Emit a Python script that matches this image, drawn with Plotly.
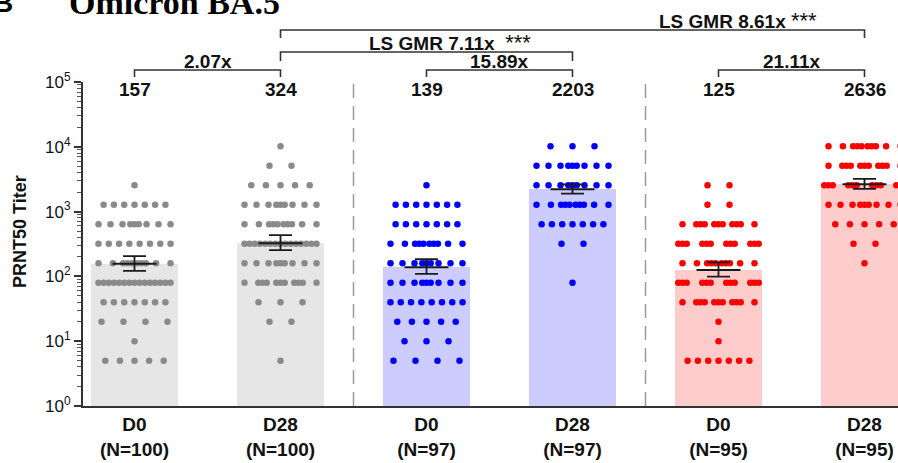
import plotly.graph_objects as go
import numpy as np

# ---------------- data ----------------
groups = ["D0", "D28", "D0", "D28", "D0", "D28"]
n_labels = ["(N=100)", "(N=100)", "(N=97)", "(N=97)", "(N=95)", "(N=95)"]
gmt = [157, 324, 139, 2203, 125, 2636]
ci_low = [122, 255, 109, 1890, 99, 2240]
ci_high = [206, 435, 184, 2640, 165, 3200]
titer_levels = [5, 10, 20, 40, 80, 160, 320, 640, 1280, 2560, 5120, 10240]
# visible dot counts per titer level
counts_g1 = [5, 1, 4, 7, 15, 10, 8, 9, 7, 1, 0, 0]
counts_g2 = [1, 0, 2, 3, 11, 9, 15, 10, 9, 5, 2, 1]
counts_g3 = [4, 3, 5, 8, 9, 9, 10, 7, 7, 1, 0, 0]
counts_g4 = [0, 0, 0, 0, 1, 0, 2, 7, 10, 9, 9, 3]
counts_g5 = [7, 1, 1, 11, 12, 10, 12, 11, 2, 2, 0, 0]
counts_g6 = [0, 0, 0, 0, 0, 1, 2, 5, 9, 12, 11, 10]
pair_ratios = ["2.07x", "15.89x", "21.11x"]
gmr_labels = ["LS GMR 7.11x", "LS GMR 8.61x"]
y_tick_vals = [1, 10, 100, 1000, 10000, 100000]
y_tick_text = ["10<sup>0</sup>", "10<sup>1</sup>", "10<sup>2</sup>",
               "10<sup>3</sup>", "10<sup>4</sup>", "10<sup>5</sup>"]

all_counts = [counts_g1, counts_g2, counts_g3, counts_g4, counts_g5, counts_g6]
dot_colors = ["#8a8a8a", "#8a8a8a", "#0000ff", "#0000ff", "#ff0000", "#ff0000"]
bar_colors = ["#e6e6e6", "#e6e6e6", "#ccccff", "#ccccff", "#ffcccc", "#ffcccc"]

# ---------------- geometry ----------------
W, H = 898, 463
ML, MR, MT, MB = 83, 0, 82, 57
PX_PER_UNIT = 146.0
x_lo = -(134.5 - ML) / PX_PER_UNIT
x_hi = x_lo + (W - ML - MR) / PX_PER_UNIT
plot_h = H - MT - MB
axis_bottom_px = H - MB


def py(ypx):
    """pixel row -> paper y"""
    return (axis_bottom_px - ypx) / plot_h


def row_offsets(n):
    """swarm-like horizontal offsets (px) of n dots in one titer row"""
    if n == 0:
        return []
    if n <= 4:
        return [(i - (n - 1) / 2) * 22 for i in range(n)]
    if n == 5:
        return [(i - 2) * 14.6 for i in range(n)]
    if n <= 8:
        return [(i - (n - 1) / 2) * 10.3 for i in range(n)]
    if n <= 12:
        k = 16 - n
        t = n - 8
        slots = np.linspace(-36, 36, k)
        start = (k - t) // 2
        out = []
        for j, s in enumerate(slots):
            if start <= j < start + t:
                out += [s - 4.2, s, s + 4.2]
            else:
                out.append(s)
        return out
    return list(np.linspace(-36, 36, n))


fig = go.Figure()

fig.add_trace(go.Bar(
    x=list(range(6)), y=gmt, width=87 / PX_PER_UNIT,
    marker=dict(color=bar_colors, line=dict(width=0)),
    hoverinfo="skip"))

for gi, counts in enumerate(all_counts):
    xs, ys = [], []
    for lvl, c in zip(titer_levels, counts):
        for off in row_offsets(c):
            xs.append(gi + off / PX_PER_UNIT)
            ys.append(lvl)
    fig.add_trace(go.Scatter(
        x=xs, y=ys, mode="markers",
        marker=dict(size=6.5, color=dot_colors[gi], line=dict(width=0)),
        hoverinfo="skip"))

# mean line + error bars
fig.add_trace(go.Scatter(
    x=list(range(6)), y=gmt, mode="markers",
    marker=dict(symbol="line-ew", size=44 / 1.4, color="#1a1a1a",
                line=dict(width=2, color="#1a1a1a")),
    error_y=dict(type="data", symmetric=False,
                 array=[h - g for h, g in zip(ci_high, gmt)],
                 arrayminus=[g - l for g, l in zip(gmt, ci_low)],
                 width=11.5, thickness=1.8, color="#1a1a1a"),
    hoverinfo="skip"))

shapes = []
# dashed separators
for xs_ in (1.5, 3.5):
    shapes.append(dict(type="line", xref="x", yref="paper", x0=xs_, x1=xs_,
                       y0=0, y1=py(83), line=dict(color="#9a9a9a", width=1.5, dash="14px,8px"),
                       layer="below"))


def bracket(a, b, ypx, tick):
    return dict(type="path", xref="x", yref="paper",
                path=f"M {a},{py(ypx + tick)} L {a},{py(ypx)} L {b},{py(ypx)} L {b},{py(ypx + tick)}",
                line=dict(color="#333333", width=1.6))


for k in range(3):
    shapes.append(bracket(2 * k, 2 * k + 1, 70, 7))
shapes.append(bracket(1, 3, 52, 9))
shapes.append(bracket(1, 5, 30, 8))

annotations = []
FONT = "Liberation Sans, Arial, sans-serif"
for i, g in enumerate(gmt):
    annotations.append(dict(x=i, y=py(89), xref="x", yref="paper", text=f"<b>{g}</b>",
                            showarrow=False, yanchor="middle",
                            font=dict(family=FONT, size=19, color="#111")))
for k, r in enumerate(pair_ratios):
    annotations.append(dict(x=2 * k + 0.5, y=py(62), xref="x", yref="paper", text=f"<b>{r}</b>",
                            showarrow=False, yanchor="middle",
                            font=dict(family=FONT, size=19, color="#111")))
annotations.append(dict(x=(450 - 134.5) / PX_PER_UNIT, y=py(43), xref="x", yref="paper",
                        text=f"<b>{gmr_labels[0]}</b>  <span style='font-size:22px'>***</span>",
                        showarrow=False, yanchor="middle",
                        font=dict(family=FONT, size=19, color="#111")))
annotations.append(dict(x=(738 - 134.5) / PX_PER_UNIT, y=py(20), xref="x", yref="paper",
                        text=f"<b>{gmr_labels[1]}</b> <span style='font-size:22px'>***</span>",
                        showarrow=False, yanchor="middle",
                        font=dict(family=FONT, size=19, color="#111")))
# title (cut at the top edge)
annotations.append(dict(x=(67 - ML) / (W - ML), y=py(23), xref="paper", yref="paper",
                        text="<b>Omicron BA.5</b>", showarrow=False, xanchor="left", yanchor="bottom",
                        font=dict(family="Liberation Serif, Times New Roman, serif", size=34, color="#000")))
annotations.append(dict(x=(15 - ML) / (W - ML), y=py(20), xref="paper", yref="paper",
                        text="<b>B</b>", showarrow=False, xanchor="right", yanchor="bottom",
                        font=dict(family=FONT, size=28, color="#000")))
# y title
annotations.append(dict(x=(20 - ML) / (W - ML), y=py(232), xref="paper", yref="paper",
                        text="<b>PRNT50 Titer</b>", showarrow=False, textangle=-90,
                        xanchor="center", yanchor="middle",
                        font=dict(family=FONT, size=18, color="#111")))

minor_vals = [k * 10 ** d for d in range(5) for k in range(2, 10)]

fig.update_layout(
    width=W, height=H, margin=dict(l=ML, r=MR, t=MT, b=MB, pad=0),
    paper_bgcolor="white", plot_bgcolor="white", showlegend=False,
    hovermode=False, bargap=0, shapes=shapes, annotations=annotations,
    xaxis=dict(range=[x_lo, x_hi], tickmode="array", tickvals=list(range(6)),
               ticktext=[f"<b>{g}</b><br><b>{n}</b>" for g, n in zip(groups, n_labels)],
               showgrid=False, zeroline=False, showline=True, linecolor="#333", linewidth=2,
               ticks="", tickfont=dict(family=FONT, size=19, color="#111")),
    yaxis=dict(type="log", range=[0, 5], tickmode="array", tickvals=y_tick_vals,
               ticktext=y_tick_text, showgrid=False, zeroline=False, showline=True,
               linecolor="#333", linewidth=2, ticks="outside", ticklen=7, tickwidth=1.5,
               tickcolor="#333", tickfont=dict(family=FONT, size=17, color="#111"),
               minor=dict(tickmode="array", tickvals=minor_vals, ticks="outside",
                          ticklen=4, tickwidth=1, tickcolor="#555", showgrid=False)),
)

fig.write_html("out.html", config={"displayModeBar": False},
               post_script="document.body.style.margin='0';")
